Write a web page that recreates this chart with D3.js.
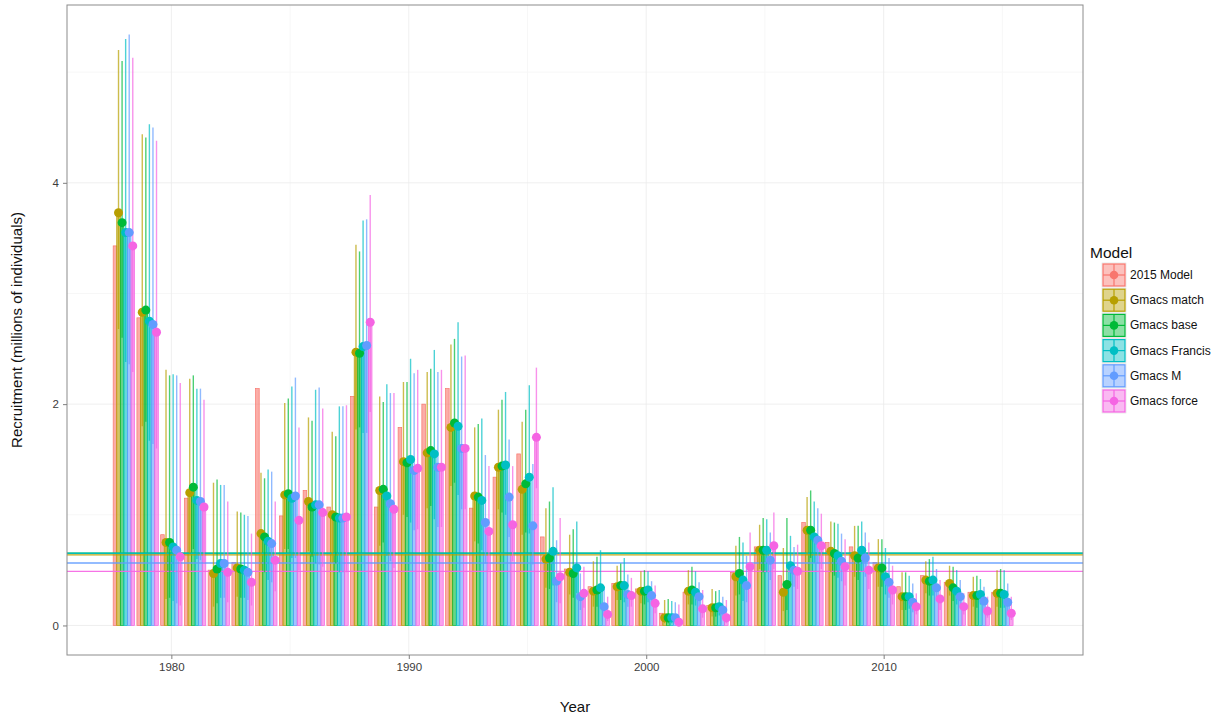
<!DOCTYPE html>
<html>
<head>
<meta charset="utf-8">
<script src="https://cdn.jsdelivr.net/npm/d3@7/dist/d3.min.js"></script>
<style>
  body { margin: 0; background: #fff; }
  svg { display: block; font-family: "Liberation Sans", Arial, Helvetica, sans-serif; }
</style>
</head>
<body>
<svg id="chart" width="1230" height="719"></svg>
<script>
// ---------------- data ----------------
const years = d3.range(1978, 2016);
const models = ["2015 Model", "Gmacs match", "Gmacs base", "Gmacs Francis", "Gmacs M", "Gmacs force"];
const colors = ["#F8766D", "#B79F00", "#00BA38", "#00BFC4", "#619CFF", "#F564E3"];

// 2015 Model (estimate only)
const est2015 = [3.43,2.78,0.82,1.15,0.50,0.57,2.14,0.99,1.22,1.07,2.07,1.07,1.79,2.00,2.14,1.06,1.34,1.55,0.80,0.51,0.35,0.38,0.33,0.11,0.30,0.18,0.48,0.71,0.45,0.93,0.75,0.71,0.57,0.35,0.45,0.39,0.30,0.30];

// Gmacs match
const estMatch = [3.73,2.83,0.75,1.20,0.47,0.52,0.83,1.18,1.12,1.00,2.47,1.22,1.48,1.56,1.79,1.17,1.43,1.23,0.60,0.48,0.31,0.35,0.31,0.07,0.31,0.16,0.44,0.68,0.30,0.86,0.67,0.63,0.52,0.26,0.41,0.38,0.27,0.29];
const upMatch  = [5.20,4.44,2.31,2.23,1.29,1.03,1.38,2.01,1.88,1.75,3.44,2.07,2.20,2.29,2.54,1.79,1.95,1.84,1.06,0.82,0.58,0.54,0.49,0.23,0.50,0.33,0.72,0.91,0.70,1.16,0.94,0.90,0.78,0.48,0.58,0.54,0.44,0.50];
const loMatch  = [2.68,1.80,0.24,0.65,0.17,0.26,0.50,0.69,0.67,0.57,1.77,0.72,1.00,1.06,1.26,0.76,1.05,0.82,0.34,0.28,0.17,0.23,0.20,0.02,0.19,0.08,0.27,0.51,0.13,0.64,0.48,0.44,0.35,0.14,0.29,0.27,0.17,0.17];

// Gmacs base
const estBase = [3.64,2.85,0.75,1.25,0.51,0.51,0.80,1.19,1.07,0.98,2.46,1.23,1.47,1.58,1.83,1.16,1.44,1.28,0.61,0.47,0.32,0.36,0.31,0.07,0.32,0.16,0.47,0.68,0.37,0.86,0.65,0.61,0.52,0.26,0.40,0.34,0.27,0.29];
const upBase  = [5.10,4.41,2.26,2.26,1.32,1.02,1.33,2.05,1.85,1.71,3.38,2.02,2.20,2.32,2.59,1.82,2.04,1.95,1.12,0.87,0.62,0.56,0.50,0.24,0.53,0.31,0.80,0.97,0.97,1.22,0.93,0.90,0.78,0.48,0.60,0.53,0.45,0.51];
const loBase  = [2.60,1.84,0.25,0.69,0.20,0.25,0.48,0.69,0.62,0.56,1.79,0.75,0.98,1.08,1.29,0.74,1.02,0.84,0.33,0.25,0.17,0.23,0.19,0.02,0.19,0.08,0.28,0.48,0.14,0.61,0.45,0.41,0.35,0.14,0.27,0.22,0.16,0.16];

// Gmacs Francis
const estFrancis = [3.55,2.75,0.71,1.13,0.56,0.50,0.76,1.15,1.09,0.97,2.52,1.17,1.50,1.55,1.80,1.13,1.45,1.34,0.67,0.52,0.34,0.36,0.32,0.07,0.30,0.17,0.41,0.68,0.54,0.80,0.63,0.68,0.44,0.26,0.41,0.31,0.28,0.28];
const upFrancis  = [5.30,4.53,2.27,2.14,1.27,1.00,1.41,2.16,2.13,1.98,3.66,2.18,2.41,2.49,2.74,1.87,2.11,2.17,1.25,0.94,0.68,0.61,0.49,0.22,0.49,0.32,0.75,0.96,0.81,1.12,0.92,0.94,0.70,0.45,0.62,0.50,0.42,0.50];
const loFrancis  = [2.38,1.67,0.22,0.60,0.25,0.25,0.41,0.61,0.56,0.48,1.74,0.63,0.93,0.96,1.18,0.68,1.00,0.83,0.36,0.29,0.17,0.21,0.21,0.02,0.18,0.09,0.22,0.48,0.36,0.57,0.43,0.49,0.28,0.15,0.27,0.19,0.19,0.16];

// Gmacs M
const estM = [3.55,2.72,0.68,1.12,0.56,0.48,0.74,1.17,1.09,0.97,2.53,1.10,1.40,1.43,1.60,0.93,1.16,0.90,0.40,0.26,0.17,0.28,0.27,0.07,0.26,0.14,0.36,0.59,0.50,0.77,0.58,0.61,0.39,0.21,0.34,0.26,0.22,0.21];
const upM  = [5.34,4.50,2.26,2.14,1.27,0.99,1.39,2.24,2.15,1.98,3.67,2.10,2.28,2.29,2.43,1.54,1.68,1.46,0.77,0.47,0.33,0.46,0.40,0.21,0.39,0.26,0.63,0.84,0.71,1.06,0.83,0.84,0.61,0.38,0.51,0.41,0.35,0.38];
const loM  = [2.36,1.64,0.20,0.59,0.25,0.23,0.39,0.61,0.55,0.48,1.74,0.58,0.86,0.89,1.05,0.56,0.80,0.55,0.21,0.14,0.09,0.17,0.18,0.02,0.17,0.08,0.21,0.41,0.35,0.56,0.40,0.44,0.25,0.12,0.23,0.16,0.14,0.12];

// Gmacs force
const estForce = [3.43,2.65,0.62,1.07,0.48,0.39,0.59,0.95,1.02,0.98,2.74,1.05,1.42,1.43,1.60,0.85,0.91,1.70,0.44,0.29,0.10,0.27,0.20,0.03,0.15,0.07,0.53,0.72,0.49,0.72,0.53,0.50,0.32,0.17,0.24,0.17,0.13,0.11];
const upForce  = [5.13,4.38,2.19,2.04,1.12,0.83,1.12,1.79,1.96,1.99,3.89,2.10,2.31,2.31,2.44,1.44,1.44,2.33,0.97,0.53,0.26,0.43,0.36,0.19,0.32,0.23,0.84,1.02,0.73,1.01,0.78,0.75,0.54,0.29,0.41,0.29,0.26,0.26];
const loForce  = [2.29,1.60,0.18,0.56,0.21,0.18,0.31,0.50,0.53,0.48,1.93,0.52,0.87,0.89,1.05,0.50,0.58,1.24,0.20,0.16,0.04,0.17,0.11,0.01,0.07,0.02,0.33,0.51,0.33,0.51,0.36,0.33,0.19,0.10,0.14,0.10,0.07,0.05];

// mean recruitment lines (Gmacs models)
const meanModels = ["Gmacs match", "Gmacs base", "Gmacs Francis", "Gmacs M", "Gmacs force"];
const meanValues = [0.638, 0.652, 0.653, 0.564, 0.489];

const xTicks = [1980, 1990, 2000, 2010];
const yTicks = [0, 2, 4];

// ---------------- build ----------------
const estimates = [est2015, estMatch, estBase, estFrancis, estM, estForce];
const uppers = [null, upMatch, upBase, upFrancis, upM, upForce];
const lowers = [null, loMatch, loBase, loFrancis, loM, loForce];

const rows = [];
models.forEach((m, mi) => {
  years.forEach((yr, i) => {
    rows.push({ model: m, mi, year: yr, est: estimates[mi][i],
      lo: lowers[mi] ? lowers[mi][i] : null, hi: uppers[mi] ? uppers[mi][i] : null });
  });
});

const svg = d3.select("#chart");
const panel = { left: 67, right: 1083, top: 5, bottom: 655 };

const color = d3.scaleOrdinal().domain(models).range(colors);
const dodge = d3.scaleBand().domain(models).range([-0.45, 0.45]);
const bw = dodge.bandwidth();

// x data range: bars of 1978 .. 2016 (last year slot empty), with 5% expansion
const xr = [1978 - 0.45, 2016 + 0.45];
const xpad = (xr[1] - xr[0]) * 0.05;
const x = d3.scaleLinear().domain([xr[0] - xpad, xr[1] + xpad]).range([panel.left, panel.right]);

const yMax = d3.max(rows, d => d.hi == null ? d.est : d.hi);
const ypad = yMax * 0.05;
const y = d3.scaleLinear().domain([-ypad, yMax + ypad]).range([panel.bottom, panel.top]);

// grid
const g = svg.append("g");
const xMinor = [1985, 1995, 2005, 2015];
const yMinor = [1, 3, 5];
g.selectAll(".xminor").data(xMinor).join("line")
  .attr("x1", d => x(d)).attr("x2", d => x(d))
  .attr("y1", panel.top).attr("y2", panel.bottom)
  .attr("stroke", "#F7F7F7").attr("stroke-width", 1);
g.selectAll(".yminor").data(yMinor).join("line")
  .attr("y1", d => y(d)).attr("y2", d => y(d))
  .attr("x1", panel.left).attr("x2", panel.right)
  .attr("stroke", "#F7F7F7").attr("stroke-width", 1);
g.selectAll(".xmajor").data(xTicks).join("line")
  .attr("x1", d => x(d)).attr("x2", d => x(d))
  .attr("y1", panel.top).attr("y2", panel.bottom)
  .attr("stroke", "#EBEBEB").attr("stroke-width", 0.8);
g.selectAll(".ymajor").data(yTicks).join("line")
  .attr("y1", d => y(d)).attr("y2", d => y(d))
  .attr("x1", panel.left).attr("x2", panel.right)
  .attr("stroke", "#EBEBEB").attr("stroke-width", 0.8);

// bars
const plot = svg.append("g");
plot.selectAll("rect.bar").data(rows).join("rect")
  .attr("class", "bar")
  .attr("x", d => x(d.year + dodge(d.model)))
  .attr("width", d => x(d.year + dodge(d.model) + bw) - x(d.year + dodge(d.model)))
  .attr("y", d => y(d.est))
  .attr("height", d => y(0) - y(d.est))
  .attr("fill", d => color(d.model))
  .attr("fill-opacity", 0.6)
  .attr("stroke", d => color(d.model))
  .attr("stroke-opacity", 1)
  .attr("stroke-width", 0.7);

// mean lines
plot.selectAll("line.mean").data(meanModels.map((m, i) => ({ model: m, v: meanValues[i] }))).join("line")
  .attr("x1", panel.left).attr("x2", panel.right)
  .attr("y1", d => y(d.v)).attr("y2", d => y(d.v))
  .attr("stroke", d => color(d.model)).attr("stroke-width", 1.4).attr("stroke-opacity", 0.9);

// error bars
const ci = rows.filter(d => d.hi != null);
plot.selectAll("line.ci").data(ci).join("line")
  .attr("x1", d => x(d.year + dodge(d.model) + bw / 2))
  .attr("x2", d => x(d.year + dodge(d.model) + bw / 2))
  .attr("y1", d => y(d.lo)).attr("y2", d => y(d.hi))
  .attr("stroke", d => color(d.model)).attr("stroke-width", 1.4).attr("stroke-opacity", 0.7);

// points
plot.selectAll("circle.pt").data(ci).join("circle")
  .attr("cx", d => x(d.year + dodge(d.model) + bw / 2))
  .attr("cy", d => y(d.est))
  .attr("r", 4.5)
  .attr("fill", d => color(d.model));

// panel border
svg.append("rect").attr("x", panel.left).attr("y", panel.top)
  .attr("width", panel.right - panel.left).attr("height", panel.bottom - panel.top)
  .attr("fill", "none").attr("stroke", "#8C8C8C").attr("stroke-width", 1);

// axes
const xAxis = svg.append("g").attr("transform", `translate(0,${panel.bottom})`)
  .call(d3.axisBottom(x).tickValues(xTicks).tickFormat(d3.format("d")).tickSize(4).tickPadding(4));
const yAxis = svg.append("g").attr("transform", `translate(${panel.left},0)`)
  .call(d3.axisLeft(y).tickValues(yTicks).tickFormat(d3.format("d")).tickSize(4).tickPadding(4));
[xAxis, yAxis].forEach(a => {
  a.select(".domain").remove();
  a.selectAll(".tick line").attr("stroke", "#7F7F7F");
  a.selectAll(".tick text").attr("fill", "#3C3C3C").style("font-size", "11.5px")
    .style("font-family", "'Liberation Sans', Arial, sans-serif");
});

// axis titles
svg.append("text").attr("x", (panel.left + panel.right) / 2).attr("y", 712)
  .attr("text-anchor", "middle").style("font-size", "15px").attr("fill", "#111").text("Year");
svg.append("text").attr("transform", `translate(22,${(panel.top + panel.bottom) / 2}) rotate(-90)`)
  .attr("text-anchor", "middle").style("font-size", "15px").attr("fill", "#111")
  .text("Recruitment (millions of individuals)");

// legend
const lg = svg.append("g").attr("transform", "translate(1089,0)");
lg.append("text").attr("x", 1).attr("y", 258).style("font-size", "15.5px").attr("fill", "#111").text("Model");
const keyW = 24, keyH = 24, keyTop = 263, keyStep = 25.2;
models.forEach((m, i) => {
  const k = lg.append("g").attr("transform", `translate(13,${keyTop + i * keyStep})`);
  k.append("rect").attr("x", 0).attr("y", 0).attr("width", keyW).attr("height", keyH)
    .attr("fill", "#fff").attr("stroke", "#D9D9D9").attr("stroke-width", 0.6);
  k.append("rect").attr("x", 1).attr("y", 1).attr("width", keyW - 2).attr("height", keyH - 2)
    .attr("fill", colors[i]).attr("fill-opacity", 0.45)
    .attr("stroke", colors[i]).attr("stroke-width", 1.2);
  k.append("line").attr("x1", 1).attr("x2", keyW - 1).attr("y1", keyH / 2).attr("y2", keyH / 2)
    .attr("stroke", colors[i]).attr("stroke-width", 1.2);
  k.append("line").attr("x1", keyW / 2).attr("x2", keyW / 2).attr("y1", 1).attr("y2", keyH - 1)
    .attr("stroke", colors[i]).attr("stroke-width", 1.2);
  k.append("circle").attr("cx", keyW / 2).attr("cy", keyH / 2).attr("r", 4.3).attr("fill", colors[i]);
  lg.append("text").attr("x", 41).attr("y", keyTop + i * keyStep + keyH / 2 + 4)
    .style("font-size", "12px").attr("fill", "#111").text(m);
});
</script>
</body>
</html>
